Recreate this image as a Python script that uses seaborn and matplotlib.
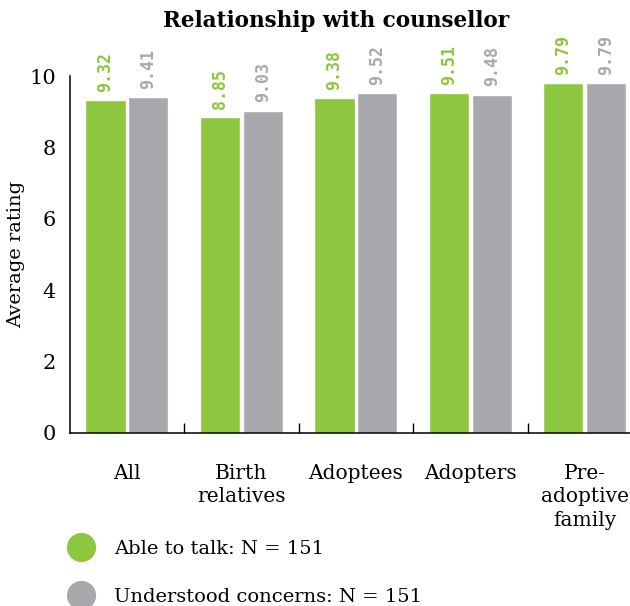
import pandas as pd
import matplotlib
matplotlib.use("Agg")
import matplotlib.pyplot as plt
from matplotlib.lines import Line2D
import seaborn as sns

sns.set_theme(style="white")
plt.rcParams["font.family"] = ["DejaVu Serif"]
plt.rcParams["text.color"] = "black"
plt.rcParams["axes.labelcolor"] = "black"
plt.rcParams["xtick.color"] = "black"
plt.rcParams["ytick.color"] = "black"

categories = ["All", "Birth\nrelatives", "Adoptees", "Adopters", "Pre-\nadoptive\nfamily"]
able_to_talk = [9.32, 8.85, 9.38, 9.51, 9.79]
understood = [9.41, 9.03, 9.52, 9.48, 9.79]
series_names = ["Able to talk: N = 151", "Understood concerns: N = 151"]
colors = ["#8dc63f", "#a7a9ac"]

df = pd.DataFrame({
    "group": categories * 2,
    "series": [series_names[0]] * 5 + [series_names[1]] * 5,
    "rating": able_to_talk + understood,
})

W, H = 630, 606
fig = plt.figure(figsize=(W / 100, H / 100), dpi=100)
ax = fig.add_axes([69.6 / W, 1 - 433 / H, (642 - 69.6) / W, 357 / H])

sns.barplot(data=df, x="group", y="rating", hue="series", palette=colors,
            width=0.75, gap=0.06, saturation=1, legend=False, ax=ax)

ax.set_xlim(-0.5, 4.5)
ax.set_ylim(0, 10)
ax.set_yticks([0, 2, 4, 6, 8, 10])
ax.set_ylabel("Average rating", fontsize=14)
ax.yaxis.set_label_coords(-0.078, 0.5)
ax.set_xlabel("")
ax.tick_params(axis="y", direction="in", length=9, width=1, labelsize=15, pad=10)
ax.tick_params(axis="x", which="major", length=0, labelsize=14.5, pad=22)
for lab in ax.get_xticklabels():
    lab.set_linespacing(1.3)
    lab.set_verticalalignment("top")
ax.set_xticks([0.5, 1.5, 2.5, 3.5], minor=True)
ax.tick_params(axis="x", which="minor", direction="in", length=7, width=1)
ax.xaxis.set_tick_params(which="minor", bottom=True)

for side in ["top", "right"]:
    ax.spines[side].set_visible(False)
for side in ["left", "bottom"]:
    ax.spines[side].set_color("black")
    ax.spines[side].set_linewidth(1.1)

for cont, col in zip(ax.containers, colors):
    ax.bar_label(cont, fmt="%.2f", rotation=90, padding=6, color=col,
                 fontsize=12, fontweight="bold", family="DejaVu Sans Mono", clip_on=False)

fig.text(336 / W, 1 - 21 / H, "Relationship with counsellor", ha="center", va="center",
         fontsize=15.5, fontweight="bold")

handles = [Line2D([], [], marker="o", linestyle="", markersize=20, color=c) for c in colors]
fig.legend(handles, series_names, loc="upper left", bbox_to_anchor=(59 / W, 1 - 532 / H),
           frameon=False, fontsize=14, handletextpad=0.95, labelspacing=1.55,
           borderaxespad=0, handlelength=1.5)

fig.savefig("out.png", dpi=100)
